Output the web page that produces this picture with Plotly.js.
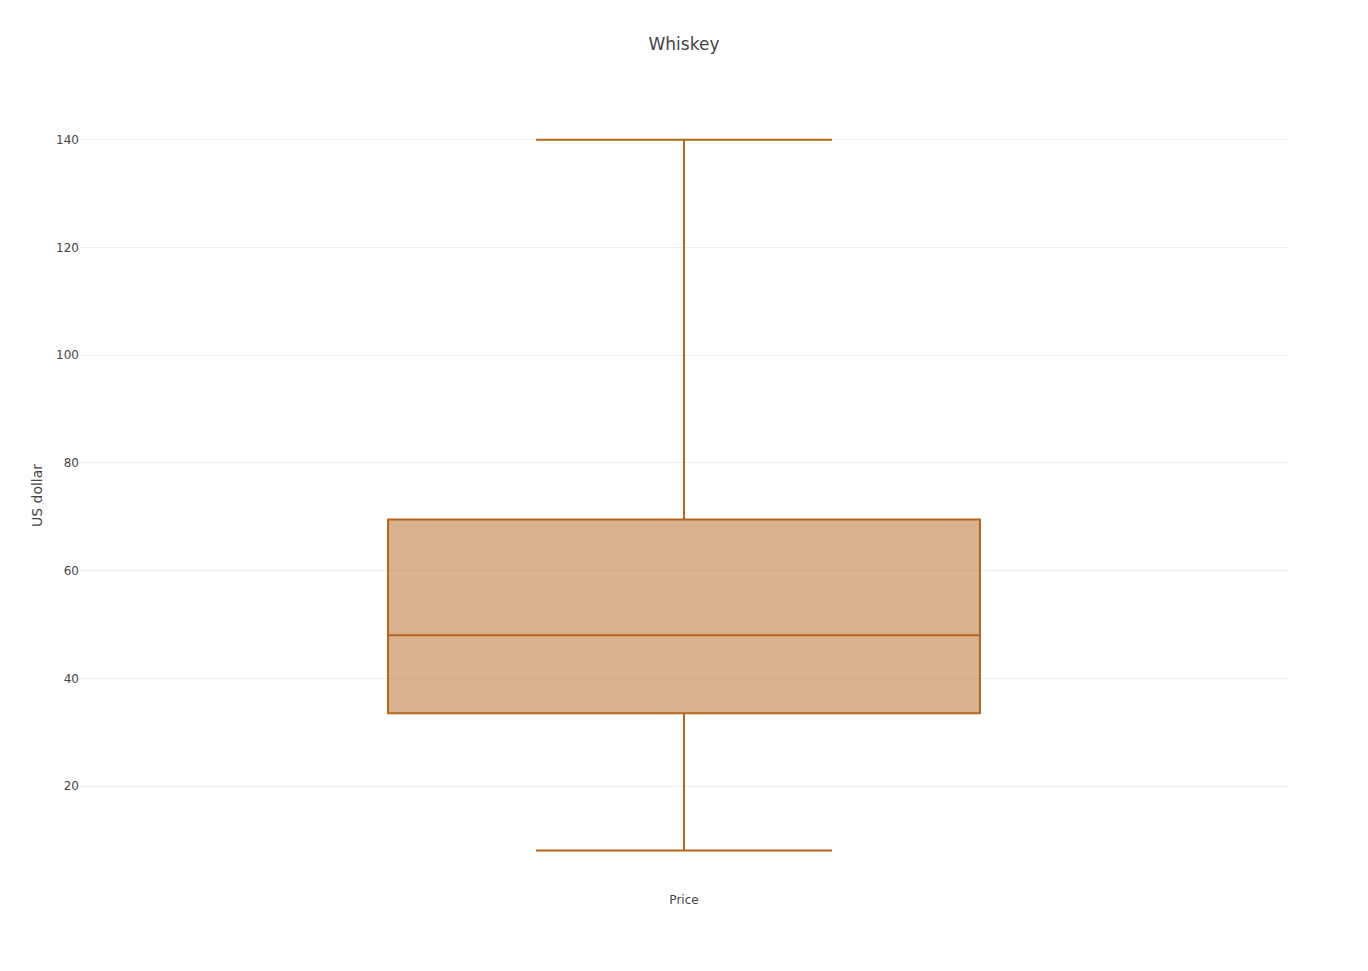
<!DOCTYPE html>
<html>
<head>
<meta charset="utf-8">
<script src="https://cdn.plot.ly/plotly-3.0.1.min.js"></script>
<style>html,body{margin:0;padding:0;}#chart{width:1368px;height:971px;}</style>
</head>
<body>
<div id="chart"></div>
<script>
const categories = ["Price"];
const lowerFence = [8];
const q1 = [33.5];
const median = [48];
const q3 = [69.5];
const upperFence = [140];

const trace = {
  type: "box",
  x: categories,
  lowerfence: lowerFence,
  q1: q1,
  median: median,
  q3: q3,
  upperfence: upperFence,
  name: "Price",
  marker: {color: "#B5651D"},
  line: {color: "#B5651D", width: 2},
  fillcolor: "rgba(181,101,29,0.5)",
  boxpoints: false,
  hoverinfo: "y"
};

const layout = {
  width: 1368,
  height: 971,
  font: {family: "DejaVu Sans, Verdana, sans-serif", color: "#444"},
  title: {text: "Whiskey", font: {size: 17}},
  showlegend: false,
  xaxis: {showgrid: false, zeroline: false},
  yaxis: {title: {text: "US dollar"}, range: [0.5, 147.4], gridcolor: "#eeeeee", zeroline: false},
  plot_bgcolor: "white",
  paper_bgcolor: "white"
};

Plotly.newPlot("chart", [trace], layout, {displayModeBar: false});
</script>
</body>
</html>
